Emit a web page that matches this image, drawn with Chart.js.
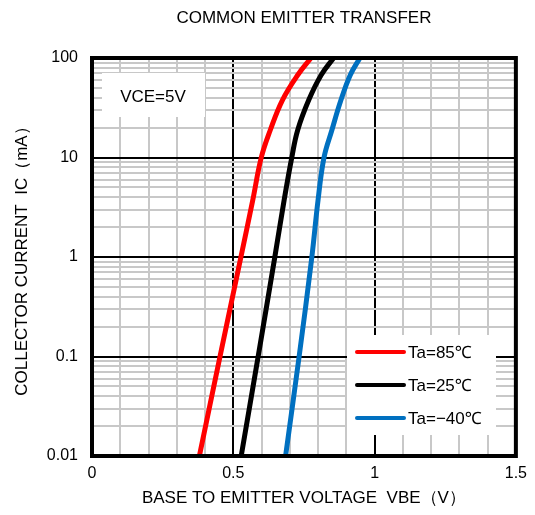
<!DOCTYPE html>
<html>
<head>
<meta charset="utf-8">
<script src="https://cdn.jsdelivr.net/npm/chart.js@4.4.1/dist/chart.umd.min.js"></script>
<style>
  html, body { margin: 0; padding: 0; background: #fff; }
  #wrap { width: 535px; height: 515px; }
</style>
</head>
<body>
<div id="wrap"><canvas id="transferChart"></canvas></div>
<script>
// collector current levels (mA) where the curves were read
const icLevels = [0.01, 0.1, 1, 3.74, 10, 18.9, 37.8, 67.5, 100];
// base-emitter voltage (V) at each current level
const vbe85 = [0.38, 0.453, 0.527, 0.569, 0.599, 0.631, 0.674, 0.728, 0.775];
const vbe25 = [0.528, 0.588, 0.647, 0.68, 0.707, 0.728, 0.767, 0.811, 0.855];
const vbeMinus40 = [0.685, 0.733, 0.778, 0.80, 0.821, 0.849, 0.881, 0.914, 0.948];

const seriesLabels = ["Ta=85\u2103", "Ta=25\u2103", "Ta=\u221240\u2103"];
const seriesColors = ["#ff0000", "#000000", "#0070c0"];

const yDecades = [0.01, 0.1, 1, 10, 100];
const yTickLabels = ["0.01", "0.1", "1", "10", "100"];
const xTickLabels = { 0: "0", 5: "0.5", 10: "1", 15: "1.5" };

const FONT = "'Liberation Sans', Arial, 'Noto Sans', sans-serif";

function toPoints(xs) {
  return xs.map((v, i) => ({ x: v, y: icLevels[i] }));
}

function isDecade(v) {
  return yDecades.some((d) => Math.abs(v - d) < d * 1e-6);
}

// gridline values: 1..9 in every decade
const yGridValues = [];
yDecades.forEach((d, i) => {
  if (i === yDecades.length - 1) { yGridValues.push(d); return; }
  for (let k = 1; k <= 9; k++) yGridValues.push(Math.round(d * k * 1000) / 1000);
});

// Plugin: title, white note boxes, legend and heavy frame
const decorPlugin = {
  id: "decor",
  beforeDatasetsDraw(chart) {
    const { ctx } = chart;
    ctx.save();
    // VCE box
    ctx.fillStyle = "#fff";
    ctx.fillRect(102, 73, 103, 44);
    ctx.fillStyle = "#000";
    ctx.font = "17px " + FONT;
    ctx.textAlign = "center";
    ctx.textBaseline = "middle";
    ctx.fillText("VCE=5V", 153, 97);

    // legend box
    ctx.fillStyle = "#fff";
    ctx.fillRect(347, 335, 149, 100);
    ctx.textAlign = "left";
    ctx.font = "17px " + FONT;
    const rows = [352, 385, 418];
    chart.data.datasets.forEach((ds, i) => {
      ctx.strokeStyle = ds.borderColor;
      ctx.lineWidth = 4;
      ctx.lineCap = "round";
      ctx.beginPath();
      ctx.moveTo(357, rows[i]);
      ctx.lineTo(404, rows[i]);
      ctx.stroke();
      ctx.fillStyle = "#000";
      ctx.fillText(ds.label, 408, rows[i] + 1);
    });
    ctx.restore();
  },
  afterDraw(chart) {
    const { ctx, chartArea } = chart;
    ctx.save();
    ctx.strokeStyle = "#000";
    ctx.lineWidth = 4;
    ctx.strokeRect(chartArea.left, chartArea.top,
      chartArea.right - chartArea.left, chartArea.bottom - chartArea.top);
    // main title
    ctx.fillStyle = "#000";
    ctx.font = "17px " + FONT;
    ctx.textAlign = "center";
    ctx.textBaseline = "middle";
    ctx.fillText("COMMON EMITTER TRANSFER", (chartArea.left + chartArea.right) / 2, 18);
    ctx.restore();
  },
};

const ctx = document.getElementById("transferChart");
const transferChart = new Chart(ctx, {
  type: "line",
  data: {
    datasets: [
      { label: seriesLabels[0], data: toPoints(vbe85), borderColor: seriesColors[0] },
      { label: seriesLabels[1], data: toPoints(vbe25), borderColor: seriesColors[1] },
      { label: seriesLabels[2], data: toPoints(vbeMinus40), borderColor: seriesColors[2] },
    ].map((d) => ({
      ...d,
      borderWidth: 5,
      pointRadius: 0,
      fill: false,
      tension: 0.4,
    })),
  },
  options: {
    responsive: true,
    maintainAspectRatio: false,
    animation: false,
    layout: { padding: { top: 58, right: 18, left: 0, bottom: 0 } },
    plugins: {
      legend: { display: false },
      tooltip: { enabled: false },
      title: { display: false },
    },
    scales: {
      x: {
        type: "linear",
        min: 0,
        max: 1.5,
        afterFit: (s) => { s.height = 59; },
        ticks: {
          stepSize: 0.1,
          autoSkip: false,
          maxRotation: 0,
          padding: 8,
          color: "#000",
          font: { family: FONT, size: 16 },
          callback: (v) => {
            const k = Math.round(v * 10);
            return xTickLabels[k] !== undefined ? xTickLabels[k] : "";
          },
        },
        grid: {
          drawTicks: false,
          lineWidth: 2,
          color: (c) => {
            const k = Math.round(c.tick.value * 10);
            return k % 5 === 0 ? "#000" : "#c8c8c8";
          },
        },
        border: { display: false },
        title: {
          display: true,
          text: "BASE TO EMITTER VOLTAGE  VBE\uFF08V\uFF09",
          color: "#000",
          font: { family: FONT, size: 17 },
          padding: { top: 0, bottom: 6 },
        },
      },
      y: {
        type: "logarithmic",
        min: 0.01,
        max: 100,
        afterFit: (s) => { s.width = 92; },
        afterBuildTicks: (s) => {
          s.ticks = yGridValues.map((v) => ({ value: v }));
        },
        ticks: {
          autoSkip: false,
          padding: 14,
          color: "#000",
          font: { family: FONT, size: 16 },
          callback: (v) => {
            const i = yDecades.findIndex((d) => Math.abs(v - d) < d * 1e-6);
            return i >= 0 ? yTickLabels[i] : "";
          },
        },
        grid: {
          drawTicks: false,
          lineWidth: 2,
          color: (c) => (c.tick && isDecade(c.tick.value) ? "#000" : "#c8c8c8"),
        },
        border: { display: false },
        title: {
          display: true,
          text: "COLLECTOR CURRENT  IC\uFF08mA\uFF09",
          color: "#000",
          font: { family: FONT, size: 17 },
          padding: { top: 12, bottom: 0 },
        },
      },
    },
  },
  plugins: [decorPlugin],
});
</script>
</body>
</html>
